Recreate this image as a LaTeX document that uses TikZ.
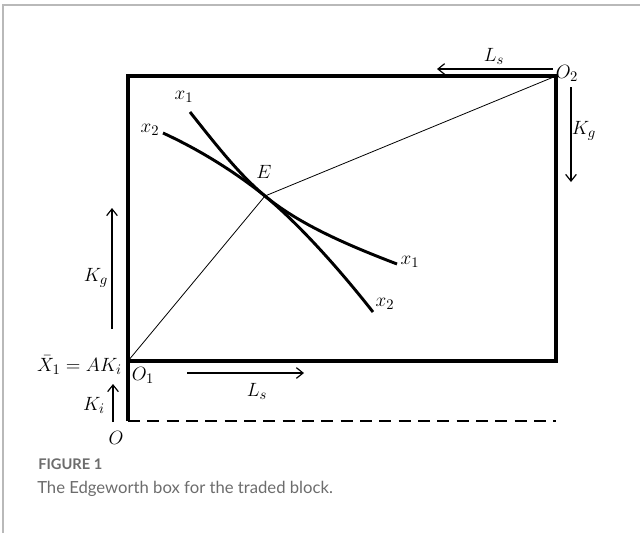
\documentclass[tikz,border=0pt]{standalone}
\usepackage{fontspec}
\setsansfont{Lato}
\usetikzlibrary{arrows.meta}
\begin{document}
\begin{tikzpicture}[x=0.75pt,y=-0.75pt,
  thick box/.style={line width=2.3pt},
  curve/.style={line width=2.2pt},
  thin ray/.style={line width=0.6pt},
  dir arrow/.style={line width=0.9pt,-{Straight Barb[length=5pt,width=8pt]}},
  lab/.style={inner sep=0pt,font=\fontsize{15.5}{17}\selectfont},
  frame/.style={draw=gray!55,line width=1pt},
  captext/.style={inner sep=0pt,anchor=west,text=gray!85!black,font=\sffamily}]
\useasboundingbox (0,0) rectangle (640,533);
% outer frame
\draw[frame] (3,533) -- (3,5) -- (640,5);
% coordinates
\coordinate (O1) at (128,361);
\coordinate (O2) at (556,76);
\coordinate (TL) at (128,76);
\coordinate (BR) at (556,361);
\coordinate (O) at (128,421);
\coordinate (OR) at (556,421);
\coordinate (E) at (265,196);
% box
\draw[thick box] (O) -- (TL) -- (O2) -- (BR) -- (O1);
\draw[line width=2.2pt,dash pattern=on 9pt off 5.5pt] (O) -- (OR);
% rays
\draw[thin ray] (O1) -- (E) -- (O2);
% isoquants
\coordinate (x1a) at (190,112);
\coordinate (x1b) at (397,264);
\coordinate (x2a) at (163,133);
\coordinate (x2b) at (373,312);
\draw[curve] (x1a) .. controls (220,150) and (240,175) .. (E) .. controls (300,225) and (350,246) .. (x1b);
\draw[curve] (x2a) .. controls (200,150) and (235,172) .. (E) .. controls (300,225) and (340,270) .. (x2b);
% labels on curves
\node[lab] (lx1t) at (184,97) {$x_1$};
\node[lab] (lx2t) at (150,130) {$x_2$};
\node[lab] (lE) at (264,172) {$E$};
\node[lab] (lx1b) at (410,262) {$x_1$};
\node[lab] (lx2b) at (385,304) {$x_2$};
% origins
\node[lab] (lO2) at (567,73) {$O_2$};
\node[lab] (lO1) at (143,375) {$O_1$};
\node[lab] (lO) at (116,438) {$O$};
\node[lab,anchor=east] (lX) at (122,365) {$\bar{X}_1 = AK_i$};
% direction arrows
\coordinate (a1s) at (553,69); \coordinate (a1e) at (437,69);
\draw[dir arrow] (a1s) -- (a1e);
\node[lab] (lLs1) at (494,56) {$L_s$};
\coordinate (a2s) at (571,87); \coordinate (a2e) at (571,182);
\draw[dir arrow] (a2s) -- (a2e);
\node[lab] (lKg1) at (584,131) {$K_g$};
\coordinate (a3s) at (112,329); \coordinate (a3e) at (112,208);
\draw[dir arrow] (a3s) -- (a3e);
\node[lab] (lKg2) at (96,278) {$K_g$};
\coordinate (a4s) at (187,373); \coordinate (a4e) at (304,373);
\draw[dir arrow] (a4s) -- (a4e);
\node[lab] (lLs2) at (257,391) {$L_s$};
\coordinate (a5s) at (113,422); \coordinate (a5e) at (113,384);
\draw[dir arrow] (a5s) -- (a5e);
\node[lab] (lKi) at (94,405) {$K_i$};
% caption
\node[captext,font=\sffamily\bfseries\fontsize{11}{13}\selectfont] (fig) at (38,464) {FIGURE 1};
\node[captext,font=\sffamily\fontsize{12.5}{15}\selectfont] (capt) at (37,489) {The Edgeworth box for the traded block.};
\end{tikzpicture}
\end{document}
